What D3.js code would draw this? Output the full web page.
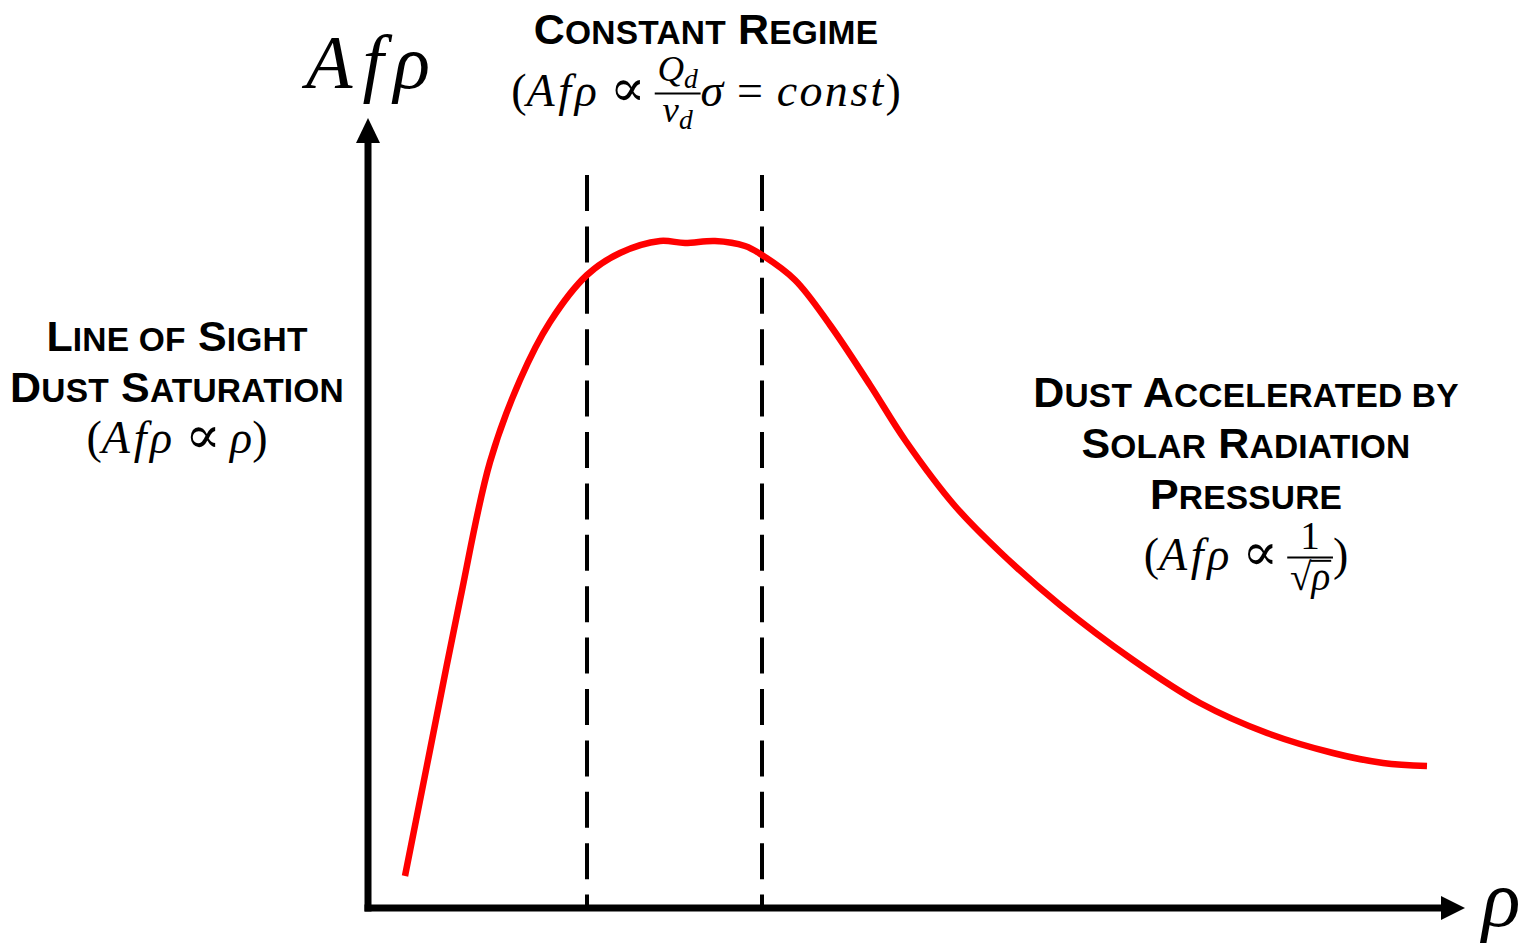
<!DOCTYPE html>
<html><head><meta charset="utf-8">
<script src="https://cdn.jsdelivr.net/npm/d3@7"></script>
<style>body{margin:0;background:#fff} svg{display:block} text{white-space:pre}</style>
</head><body>
<svg id="chart" width="1522" height="946"></svg>
<script>
// ---- data (schematic curve) ----
const rho   = [3.7, 6.2, 9.2, 12.2, 15.2, 18.2, 21.9, 25.2, 29.2, 31.7, 34.7, 37.7, 39.4, 42.7, 46.2, 50.2, 53.7, 58.7, 63.2, 69.2, 76.5, 83.2, 89.9, 96.5, 101.5, 105.9];
const afrho = [3.2, 15.8, 30.8, 44.6, 52.8, 58.6, 63.3, 65.5, 66.7, 66.5, 66.7, 66.2, 65.3, 62.8, 58.3, 52.3, 46.8, 40.2, 35.6, 30.3, 24.8, 20.5, 17.5, 15.5, 14.5, 14.2];
const regimeBounds = [21.9, 39.4];
const regimeTop = 73.3;
const xMax = 109.7, yMax = 79;
const leftLabel  = ["Line of Sight", "Dust Saturation"];
const topLabel   = ["Constant Regime"];
const rightLabel = ["Dust Accelerated by", "Solar Radiation", "Pressure"];

const svg = d3.select('#chart');
const x = d3.scaleLinear().domain([0, 110]).range([368, 1468]);
const y = d3.scaleLinear().domain([0, 79]).range([908, 118]);

// ---- axes with arrows ----
const AX = 7;
svg.append('line').attr('x1', x(0)).attr('x2', x(0)).attr('y1', y(0) + AX/2).attr('y2', y(yMax) + 24)
  .attr('stroke', '#000').attr('stroke-width', AX);
svg.append('path').attr('d', `M${x(0)},${y(yMax)} L${x(0)-12},${y(yMax)+25} L${x(0)+12},${y(yMax)+25}Z`).attr('fill', '#000');
svg.append('line').attr('x1', x(0) - AX/2).attr('x2', x(xMax) - 24).attr('y1', y(0)).attr('y2', y(0))
  .attr('stroke', '#000').attr('stroke-width', AX);
svg.append('path').attr('d', `M${x(xMax)},${y(0)} L${x(xMax)-24},${y(0)-12} L${x(xMax)-24},${y(0)+12}Z`).attr('fill', '#000');

// ---- dashed regime boundaries ----
svg.selectAll('.bound').data(regimeBounds).join('line').attr('class', 'bound')
  .attr('x1', d => x(d)).attr('x2', d => x(d)).attr('y1', y(regimeTop)).attr('y2', y(0))
  .attr('stroke', '#000').attr('stroke-width', 4).attr('stroke-dasharray', '36 15.4');

// ---- curve ----
const pts = rho.map((r, i) => [r, afrho[i]]);
svg.append('path').datum(pts)
  .attr('d', d3.line().x(d => x(d[0])).y(d => y(d[1])).curve(d3.curveCatmullRom.alpha(0.5)))
  .attr('fill', 'none').attr('stroke', '#ff0000').attr('stroke-width', 6.5);

// ---- small-caps bold labels ----
const CAP = 43, SMALL = 33.5;
function smallCaps(str, cx, yy) {
  const t = svg.append('text').attr('x', cx).attr('y', yy).attr('text-anchor', 'middle')
    .attr('font-family', '"Liberation Sans", Arial, sans-serif').attr('font-weight', 'bold')
    .attr('font-size', CAP).attr('letter-spacing', 0.2).attr('fill', '#000');
  str.split(' ').forEach((w, i) => {
    const pre = i ? ' ' : '';
    if (w === w.toLowerCase()) {
      t.append('tspan').attr('font-size', SMALL).text(pre + w.toUpperCase());
    } else {
      t.append('tspan').text(pre + w[0]);
      t.append('tspan').attr('font-size', SMALL).text(w.slice(1).toUpperCase());
    }
  });
}
topLabel.forEach((s, i) => smallCaps(s, 706, 44 + i * 51));
leftLabel.forEach((s, i) => smallCaps(s, 177, 351 + i * 51));
rightLabel.forEach((s, i) => smallCaps(s, 1246, 407 + i * 51));

// ---- math text ----
const MF = '"Liberation Serif", "DejaVu Serif", serif';
function run(parent, runs, size, xx, yy, anchor) {
  const t = parent.append('text').attr('x', xx).attr('y', yy).attr('text-anchor', anchor)
    .attr('font-family', MF).attr('font-size', size).attr('fill', '#000');
  let shifted = 0;
  runs.forEach(([s, st]) => {
    const sp = t.append('tspan').text(s);
    if (st === 'i' || st === 's') sp.attr('font-style', 'italic');
    if (st === 'o') sp.attr('font-family', '"DejaVu Serif", serif').attr('font-size', size * 1.15);
    if (st === 's') { sp.attr('font-size', size * 0.75).attr('dy', size * 0.2); shifted = size * 0.2; }
    else if (shifted) { sp.attr('dy', -shifted); shifted = 0; }
  });
  return t;
}
function mathLine(cx, base, F, items) {
  const g = svg.append('g');
  let cur = 0;
  const axis = -0.27 * F;
  items.forEach(it => {
    cur += (it.pl || 0) * F;
    if (it.frac) {
      const fs = F * it.fs;
      const fg = g.append('g');
      const n = run(fg, it.frac[0], fs, 0, axis - it.nd * F, 'middle');
      const d = run(fg, it.frac[1], fs, 0, axis + it.dd * F, 'middle');
      const wn = n.node().getComputedTextLength(), wd = d.node().getComputedTextLength();
      const w = Math.max(wn, wd) + 0.12 * F;
      fg.append('line').attr('x1', -w/2).attr('x2', w/2).attr('y1', axis).attr('y2', axis)
        .attr('stroke', '#000').attr('stroke-width', Math.max(2, F * 0.045));
      if (it.sqrt) {
        const ws = d.node().getSubStringLength(0, 1);
        const top = axis + it.dd * F - 0.74 * fs;
        fg.append('line').attr('x1', -wd/2 + ws - 1).attr('x2', wd/2 + 1).attr('y1', top).attr('y2', top)
          .attr('stroke', '#000').attr('stroke-width', Math.max(1.5, fs * 0.05));
      }
      fg.attr('transform', `translate(${cur + w/2},0)`);
      cur += w;
    } else {
      const t = run(g, it.runs, F, cur, 0, 'start');
      if (it.ls) t.attr('letter-spacing', it.ls * F);
      cur += t.node().getComputedTextLength();
    }
    cur += (it.pr || 0) * F;
  });
  g.attr('transform', `translate(${cx - cur/2},${base})`);
}
const AFR = {runs: [["Afρ", "i"]], ls: 0.08};
const PROP = {runs: [["∝", "o"]], pl: 0.2, pr: 0.2};
mathLine(706, 106, 46, [
  {runs: [["(", "r"]]}, AFR, PROP,
  {frac: [[["Q", "i"], ["d", "s"]], [["v", "i"], ["d", "s"]]], fs: 0.8, nd: 0.28, dd: 0.62},
  {runs: [["σ", "i"]]},
  {runs: [["=", "r"]], pl: 0.3, pr: 0.3},
  {runs: [["const", "i"]], ls: 0.05},
  {runs: [[")", "r"]]}
]);
mathLine(177, 453, 46, [
  {runs: [["(", "r"]]}, AFR, PROP, {runs: [["ρ", "i"]]}, {runs: [[")", "r"]]}
]);
mathLine(1246, 570, 46, [
  {runs: [["(", "r"]]}, AFR, PROP,
  {frac: [[["1", "r"]], [["√", "r"], ["ρ", "i"]]], fs: 0.85, nd: 0.18, dd: 0.7, sqrt: true},
  {runs: [[")", "r"]]}
]);

// ---- axis titles ----
svg.append('text').attr('x', 373).attr('y', 88).attr('text-anchor', 'middle')
  .attr('font-family', MF).attr('font-style', 'italic').attr('font-size', 76)
  .attr('letter-spacing', 10).text('Afρ');
svg.append('text').attr('x', 1482).attr('y', 926).attr('font-family', MF)
  .attr('font-style', 'italic').attr('font-size', 80).text('ρ');
</script>
</body></html>
